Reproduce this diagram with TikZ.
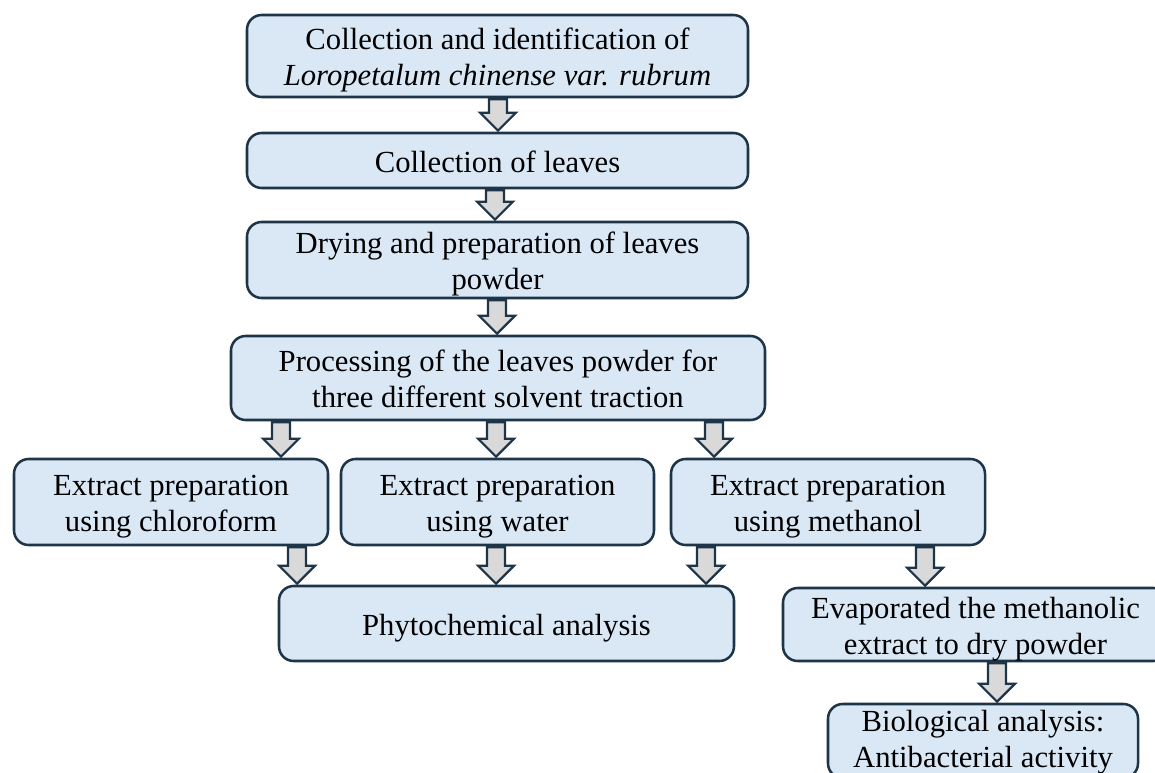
\documentclass[tikz,border=0pt]{standalone}
\usepackage{fontspec}
\setmainfont{Liberation Serif}
\usetikzlibrary{calc}
\definecolor{boxfill}{HTML}{DAE8F6}
\definecolor{boxline}{HTML}{1E3447}
\definecolor{arrfill}{HTML}{D9D9D9}
\newcommand\tx[2][-3.5pt]{\raisebox{#1}[\height][\depth]{\begin{tabular}{@{}c@{}}#2\end{tabular}}}
\tikzset{
  stepbox/.style={draw=boxline, line width=1.9pt, fill=boxfill, rounded corners=11pt,
    inner sep=0pt, font=\fontsize{23}{27}\selectfont},
  barrowstyle/.style={draw=boxline, line width=1.6pt, fill=arrfill, line join=miter}
}
\newcommand\barrow[3]{%
  \coordinate (bt) at ($(#1)+(#3,1)$);
  \coordinate (bb) at ($(bt |- #2)+(0,-1)$);
  \draw[barrowstyle] ($(bt)+(-9,0)$) -- ($(bt)+(9,0)$) -- ($(bb)+(9,-18)$) -- ($(bb)+(18,-18)$)
     -- (bb) -- ($(bb)+(-18,-18)$) -- ($(bb)+(-9,-18)$) -- cycle;
}
\begin{document}
\begin{tikzpicture}[x=0.75pt,y=-0.75pt]
\useasboundingbox (0,0) rectangle (1155,773);
\node[stepbox, minimum width=501*0.75pt, minimum height=82*0.75pt] (A) at (497.5,56)
  {\tx{Collection and identification of\\ \textit{Loropetalum chinense var. rubrum}}};
\node[stepbox, minimum width=501*0.75pt, minimum height=55*0.75pt] (B) at (497.5,160.5)
  {\tx{Collection of leaves}};
\node[stepbox, minimum width=501*0.75pt, minimum height=76*0.75pt] (C) at (497.5,260)
  {\tx{Drying and preparation of leaves\\ powder}};
\node[stepbox, minimum width=534*0.75pt, minimum height=84*0.75pt] (D) at (498,378)
  {\tx{Processing of the leaves powder for\\ three different solvent traction}};
\node[stepbox, minimum width=314*0.75pt, minimum height=86*0.75pt] (E1) at (171,502)
  {\tx{Extract preparation\\ using chloroform}};
\node[stepbox, minimum width=313*0.75pt, minimum height=86*0.75pt] (E2) at (497.5,502)
  {\tx{Extract preparation\\ using water}};
\node[stepbox, minimum width=314*0.75pt, minimum height=86*0.75pt] (E3) at (828,502)
  {\tx{Extract preparation\\ using methanol}};
\node[stepbox, minimum width=455*0.75pt, minimum height=75*0.75pt] (F) at (506.5,623.5)
  {\tx{Phytochemical analysis}};
\node[stepbox, minimum width=385*0.75pt, minimum height=73*0.75pt] (G) at (975.5,624.5)
  {\tx{Evaporated the methanolic\\ extract to dry powder}};
\node[stepbox, minimum width=310*0.75pt, minimum height=74*0.75pt] (H) at (983,741)
  {\tx[-1pt]{Biological analysis:\\ Antibacterial activity}};
\barrow{A.south}{B.north}{0.5}
\barrow{B.south}{C.north}{-2.5}
\barrow{C.south}{D.north}{-0.5}
\barrow{D.south}{E1.north}{-217}
\barrow{D.south}{E2.north}{-2}
\barrow{D.south}{E3.north}{216}
\barrow{E1.south}{F.north}{126}
\barrow{E2.south}{F.north}{-1.5}
\barrow{E3.south}{F.north}{-122}
\barrow{E3.south}{G.north}{97}
\barrow{G.south}{H.north}{21.5}
\end{tikzpicture}
\end{document}
